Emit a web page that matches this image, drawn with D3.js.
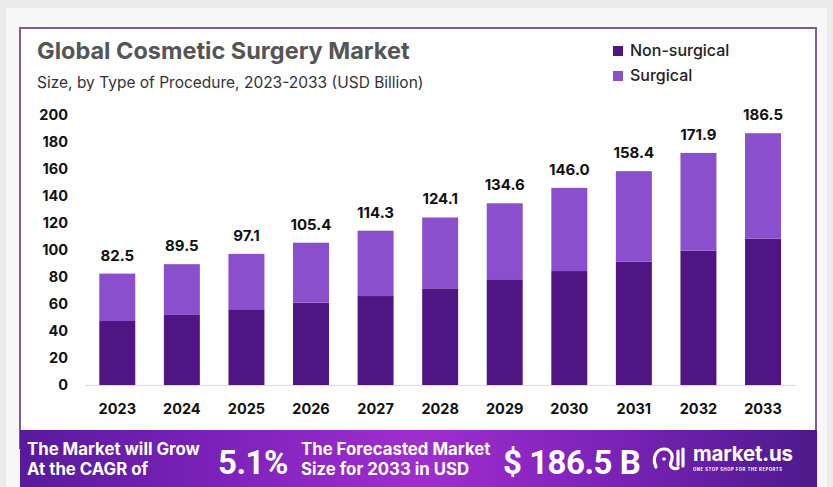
<!DOCTYPE html>
<html>
<head>
<meta charset="utf-8">
<script src="https://cdn.jsdelivr.net/npm/d3@7"></script>
<style>
  html, body { margin: 0; padding: 0; background: #ebebeb; }
  svg { display: block; }
</style>
</head>
<body>
<svg id="chart" width="833" height="487"></svg>
<script>
const years = ["2023","2024","2025","2026","2027","2028","2029","2030","2031","2032","2033"];
const totals = [82.5, 89.5, 97.1, 105.4, 114.3, 124.1, 134.6, 146.0, 158.4, 171.9, 186.5];
const nonSurgical = [47.4, 51.9, 56.1, 61.0, 65.9, 71.6, 78.3, 84.4, 91.4, 99.5, 108.4];
const surgical = totals.map((t, i) => +(t - nonSurgical[i]).toFixed(1));
const yTicks = [0, 20, 40, 60, 80, 100, 120, 140, 160, 180, 200];
const seriesNames = ["Non-surgical", "Surgical"];
const seriesColors = ["#4f1683", "#8a4fcc"];

const svg = d3.select("#chart");
const FONT = "Inter, 'Open Sans', sans-serif";

// background card
svg.append("rect").attr("x", 0).attr("y", 0).attr("width", 833).attr("height", 487).attr("fill", "#ebebeb");
svg.append("rect").attr("x", 6).attr("y", 8).attr("width", 821).attr("height", 479).attr("fill", "#f7f7f7");
svg.append("rect").attr("x", 20).attr("y", 28).attr("width", 796).attr("height", 420)
  .attr("fill", "#fefefe").attr("stroke", "#7a5e96").attr("stroke-width", 2);

// Title
svg.append("text").attr("x", 37).attr("y", 59).text("Global Cosmetic Surgery Market")
  .attr("font-family", FONT).attr("font-weight", 700).attr("font-size", 23.5).attr("fill", "#555555");
svg.append("text").attr("x", 37).attr("y", 88).text("Size, by Type of Procedure, 2023-2033 (USD Billion)")
  .attr("font-family", FONT).attr("font-size", 15.5).attr("fill", "#333");

// Legend
const legend = svg.append("g");
seriesNames.forEach((n, i) => {
  legend.append("rect").attr("x", 613).attr("y", 46 + i * 25).attr("width", 10).attr("height", 10).attr("fill", seriesColors[i]);
  legend.append("text").attr("x", 630).attr("y", 56 + i * 25).text(n)
    .attr("font-family", FONT).attr("font-weight", 500).attr("font-size", 16).attr("fill", "#222");
});

// scales
const x = d3.scaleBand().domain(years).range([85, 795.3]).paddingInner(0.443).paddingOuter(0.2215);
const y = d3.scaleLinear().domain([0, 200]).range([385, 115]);

// baseline
svg.append("line").attr("x1", 85).attr("x2", 796).attr("y1", 385.5).attr("y2", 385.5)
  .attr("stroke", "#dcdcdc").attr("stroke-width", 1);

// y axis
const yAxis = svg.append("g").attr("transform", "translate(68,0)")
  .call(d3.axisLeft(y).tickValues(yTicks).tickSize(0).tickPadding(0));
yAxis.select(".domain").remove();
yAxis.selectAll("text").attr("font-family", FONT).attr("font-weight", 700).attr("font-size", 14.5).attr("fill", "#111");

// x axis
const xAxis = svg.append("g").attr("transform", "translate(0,409)")
  .call(d3.axisBottom(x).tickSize(0).tickPadding(0));
xAxis.select(".domain").remove();
xAxis.selectAll("text").attr("dy", "0.35em").attr("font-family", FONT).attr("font-weight", 700).attr("font-size", 14.5).attr("fill", "#111");

// stacked bars
const rows = years.map((yr, i) => ({ year: yr, "Non-surgical": nonSurgical[i], "Surgical": surgical[i] }));
const stack = d3.stack().keys(seriesNames)(rows);
svg.append("g").selectAll("g").data(stack).join("g")
  .attr("fill", (d, i) => seriesColors[i])
  .selectAll("rect").data(d => d).join("rect")
  .attr("x", d => x(d.data.year))
  .attr("width", x.bandwidth())
  .attr("y", d => y(d[1]))
  .attr("height", d => y(d[0]) - y(d[1]));

// total labels
svg.append("g").selectAll("text").data(years).join("text")
  .attr("x", d => x(d) + x.bandwidth() / 2)
  .attr("y", (d, i) => y(totals[i]) - 13)
  .attr("text-anchor", "middle")
  .text((d, i) => totals[i].toFixed(1))
  .attr("font-family", FONT).attr("font-weight", 700).attr("font-size", 15).attr("fill", "#111");

// Banner
const defs = svg.append("defs");
const grad = defs.append("linearGradient").attr("id", "bannerGrad").attr("x1", "0%").attr("x2", "100%");
grad.append("stop").attr("offset", "0%").attr("stop-color", "#581a9c");
grad.append("stop").attr("offset", "25%").attr("stop-color", "#7c22ba");
grad.append("stop").attr("offset", "50%").attr("stop-color", "#a02ecf");
grad.append("stop").attr("offset", "75%").attr("stop-color", "#7a22b6");
grad.append("stop").attr("offset", "100%").attr("stop-color", "#4c1a8c");
svg.append("rect").attr("x", 20).attr("y", 430).attr("width", 797).attr("height", 57).attr("fill", "url(#bannerGrad)");

const bannerText = (txt, xx, yy, size, weight, extra) => {
  const t = svg.append("text").attr("x", xx).attr("y", yy).text(txt)
    .attr("font-family", FONT).attr("font-weight", weight).attr("font-size", size).attr("fill", "#fff");
  if (extra) extra(t);
  return t;
};
bannerText("The Market will Grow", 27, 455, 16.8, 700);
bannerText("At the CAGR of", 27, 475, 16.8, 700);
bannerText("5.1%", 218, 474, 33, 700, t => t.attr("font-family", "Roboto, sans-serif").attr("letter-spacing", -0.5));
bannerText("The Forecasted Market", 301, 455, 16.8, 700);
bannerText("Size for 2033 in USD", 301, 475, 16.8, 700);
bannerText("$ 186.5 B", 503, 474, 33, 700, t => t.attr("font-family", "Roboto, sans-serif").attr("letter-spacing", -0.5));

// logo icon
const logo = svg.append("g").attr("fill", "none").attr("stroke", "#fff").attr("stroke-width", 3.2).attr("stroke-linecap", "round");
logo.append("path").attr("d", "M656,467 C652,458 656,449 664,449 C671,449 674,456 671,462 C669,467 674,470 678,468");
logo.append("line").attr("x1", 678).attr("y1", 451).attr("x2", 678).attr("y2", 465);
logo.append("line").attr("x1", 683).attr("y1", 449).attr("x2", 683).attr("y2", 466);
svg.append("circle").attr("cx", 664).attr("cy", 459).attr("r", 1.8).attr("fill", "#fff");
bannerText("market.us", 693, 461, 20.5, 700, t => t.attr("letter-spacing", -0.2));
bannerText("ONE STOP SHOP FOR THE REPORTS", 693, 471, 4.2, 700, t => t.attr("letter-spacing", 0.55));
</script>
</body>
</html>
